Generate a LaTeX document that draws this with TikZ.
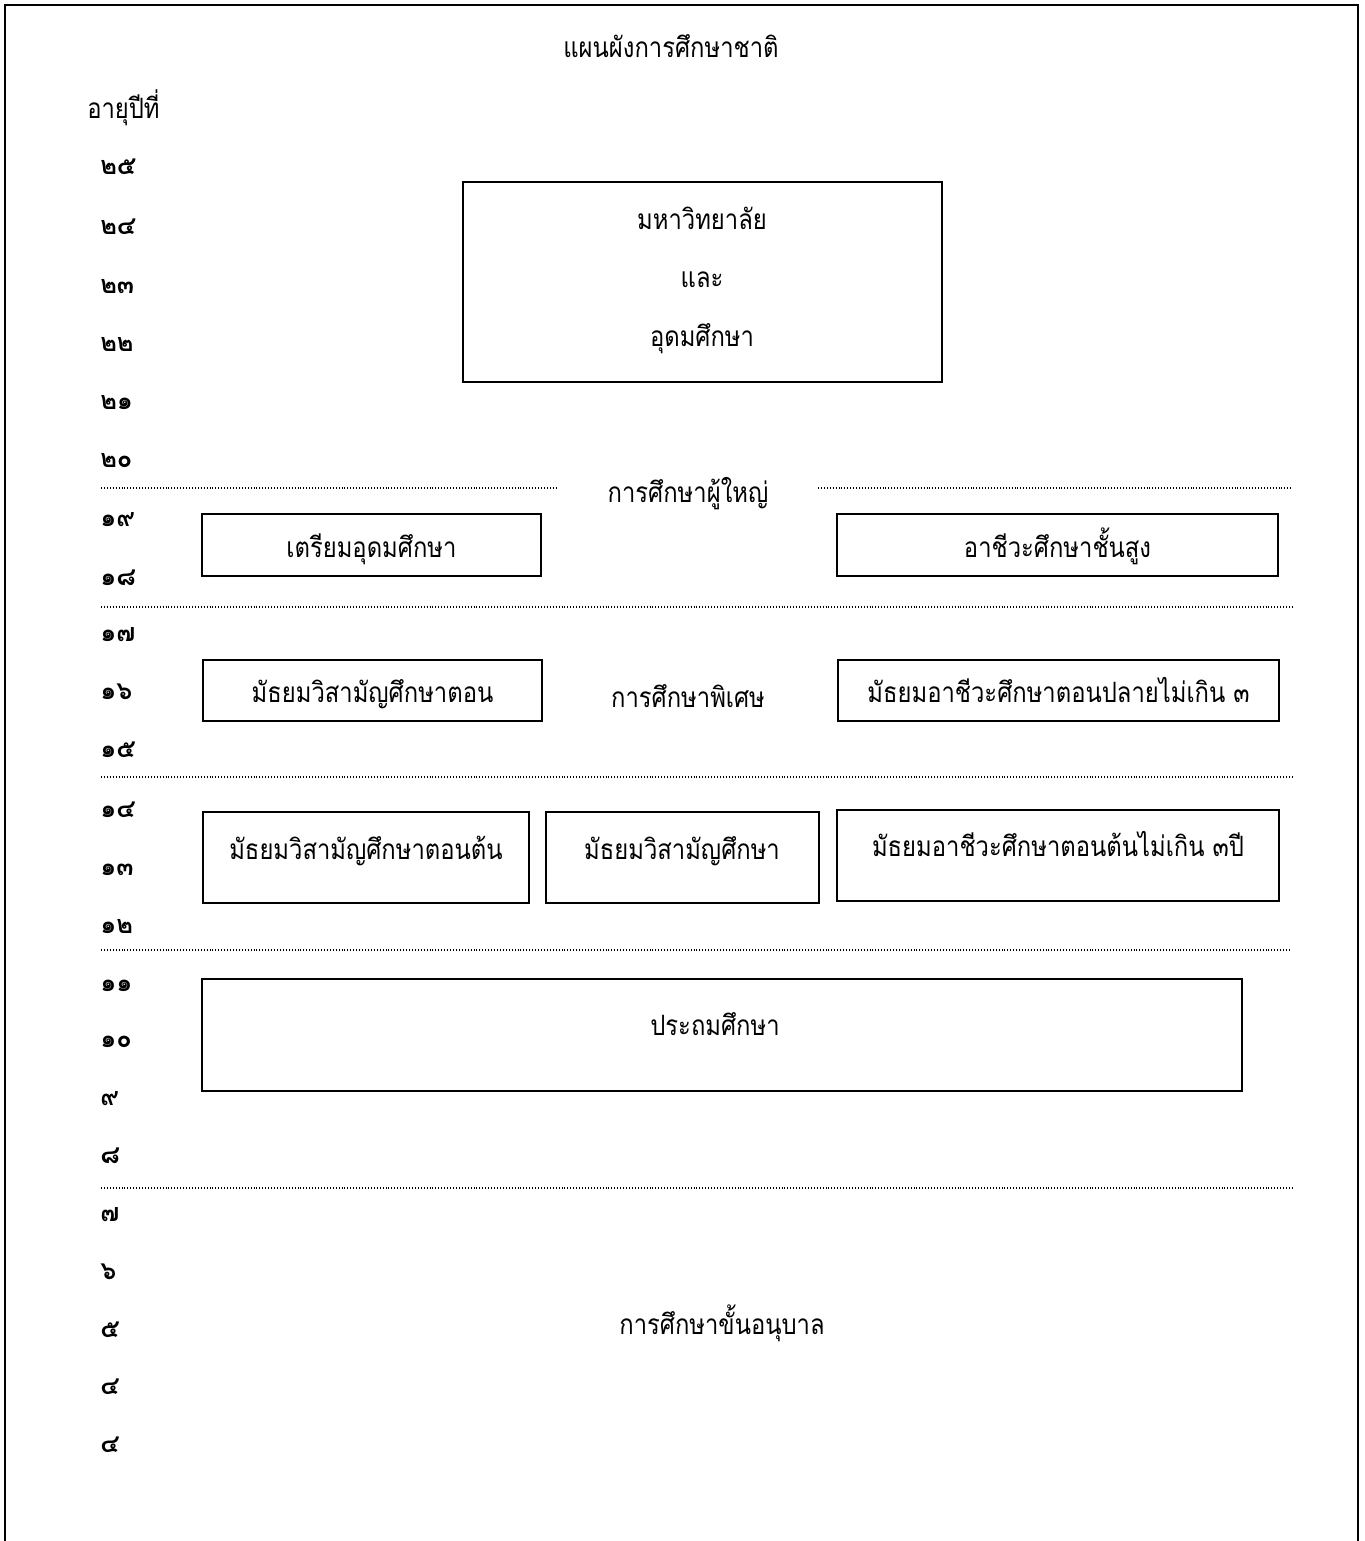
\documentclass[tikz,border=0pt]{standalone}
\usepackage{fontspec}
\newfontfamily\thai[Script=Thai,FakeStretch=0.85]{Loma}
\newfontfamily\thaidig[Script=Thai]{Loma}
\usetikzlibrary{fit}
\begin{document}
\begin{tikzpicture}[x=0.75pt,y=-0.75pt,
  txt/.style={font=\thai\fontsize{21}{24}\selectfont, inner sep=0pt, anchor=base},
  lbl/.style={font=\thai\fontsize{21}{24}\selectfont, inner sep=0pt, anchor=base west},
  num/.style={font=\thaidig\bfseries\fontsize{19}{22}\selectfont, inner sep=0pt, anchor=base west},
  box/.style={draw, line width=1.1pt, inner sep=0pt},
  dots/.style={line width=0.8pt, dash pattern=on 0.7pt off 1.5pt}]
\useasboundingbox (0,0) rectangle (1364,1541);
% frame (open at the bottom)
\draw[line width=1.6pt] (5,1541) -- (5,5) -- (1358,5) -- (1358,1541);
% title
\node[txt] (title) at (671,58) {แผนผังการศึกษาชาติ};
\node[lbl] (age) at (87,119) {อายุปีที่};
% age numbers
\foreach \n/\y [count=\i] in {๒๕/175,๒๔/234,๒๓/293,๒๒/351,๒๑/409,๒๐/467,๑๙/526,๑๘/585,๑๗/641,๑๖/699,๑๕/757,๑๔/817,๑๓/875,๑๒/933,๑๑/991,๑๐/1047,๙/1105,๘/1163,๗/1221,๖/1279,๕/1337,๔/1394,๔/1452}
  \node[num] (n\i) at (100,\y) {\n};
% university
\node[box, fit={(463,182) (942,382)}] (uni) {};
\node[txt] (uni1) at (702,229) {มหาวิทยาลัย};
\node[txt] (uni2) at (702,287) {และ};
\node[txt] (uni3) at (702,346) {อุดมศึกษา};
% adult education
\draw[dots] (101,488) -- (558,488);
\node[txt] (adult) at (688,502) {การศึกษาผู้ใหญ่};
\draw[dots] (818,488) -- (1292,488);
\node[box, fit={(202,514) (541,576)}] (prep) {};
\node[txt] at (prep.center) [yshift=-9pt] (preptxt) {เตรียมอุดมศึกษา};
\node[box, fit={(837,514) (1278,576)}] (voch) {};
\node[txt] at (voch.center) [yshift=-9pt] (vochtxt) {อาชีวะศึกษาชั้นสูง};
\draw[dots] (101,607) -- (1292,607);
% upper secondary
\node[box, fit={(203,660) (542,721)}] (sec2) {};
\node[txt] at (sec2.center) [yshift=-9pt] (sec2txt) {มัธยมวิสามัญศึกษาตอน};
\node[txt] (special) at (688,707) {การศึกษาพิเศษ};
\node[box, fit={(838,660) (1279,721)}] (voc2) {};
\node[txt] at (voc2.center) [yshift=-9pt] (voc2txt) {มัธยมอาชีวะศึกษาตอนปลายไม่เกิน ๓};
\draw[dots] (101,777) -- (1292,777);
% lower secondary
\node[box, fit={(203,812) (529,903)}] (sec1) {};
\node[txt] (sec1txt) at (366,859) {มัธยมวิสามัญศึกษาตอนต้น};
\node[box, fit={(546,812) (819,903)}] (sec0) {};
\node[txt] (sec0txt) at (682,859) {มัธยมวิสามัญศึกษา};
\node[box, fit={(837,810) (1279,901)}] (voc1) {};
\node[txt] (voc1txt) at (1058,856) {มัธยมอาชีวะศึกษาตอนต้นไม่เกิน ๓ปี};
\draw[dots] (101,950) -- (1290,950);
% primary
\node[box, fit={(202,979) (1242,1091)}] (prim) {};
\node[txt] (primtxt) at (715,1035) {ประถมศึกษา};
\draw[dots] (101,1188) -- (1292,1188);
% kindergarten
\node[txt] (kinder) at (722,1334) {การศึกษาขั้นอนุบาล};
\end{tikzpicture}
\end{document}
